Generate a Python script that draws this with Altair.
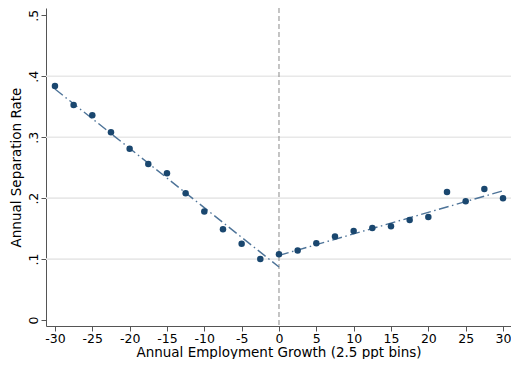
import altair as alt
import pandas as pd

# --- data ---
x_left = [-30, -27.5, -25, -22.5, -20, -17.5, -15, -12.5, -10, -7.5, -5, -2.5]
y_left = [0.384, 0.353, 0.336, 0.308, 0.281, 0.256, 0.241, 0.208, 0.178, 0.149, 0.125, 0.100]
x_right = [0, 2.5, 5, 7.5, 10, 12.5, 15, 17.5, 20, 22.5, 25, 27.5, 30]
y_right = [0.108, 0.114, 0.126, 0.137, 0.146, 0.151, 0.154, 0.164, 0.169, 0.210, 0.195, 0.215, 0.200]

fit_left_x = [-30, 0]
fit_left_y = [0.379, 0.087]
fit_right_x = [0, 30]
fit_right_y = [0.106, 0.212]

grid_y = [0.1, 0.2, 0.3, 0.4]
x_ticks = [-30, -25, -20, -15, -10, -5, 0, 5, 10, 15, 20, 25, 30]
y_ticks = [0, 0.1, 0.2, 0.3, 0.4, 0.5]
vline_x = [0]

FONT = "DejaVu Sans"
NAVY = "#1a476f"
LINE = "#4d7398"

pts = pd.DataFrame({"x": x_left + x_right, "y": y_left + y_right})
fits = pd.DataFrame({
    "x": fit_left_x + fit_right_x,
    "y": fit_left_y + fit_right_y,
    "seg": ["left"] * len(fit_left_x) + ["right"] * len(fit_right_x),
})
grid = pd.DataFrame({"y": grid_y})
vline = pd.DataFrame({"x": vline_x})

xscale = alt.Scale(domain=[-31.2, 31.07], nice=False, zero=False)
yscale = alt.Scale(domain=[-0.0098, 0.512], nice=False, zero=False)

xaxis = alt.Axis(
    values=x_ticks, title="Annual Employment Growth (2.5 ppt bins)", grid=False,
    labelExpr="datum.value < 0 ? '-' + abs(datum.value) : '' + datum.value",
    labelFont=FONT, labelFontSize=12.5, titleFont=FONT, titleFontSize=13.5,
    titleFontWeight="normal", labelColor="#000", titleColor="#000",
    domainColor="#555", tickColor="#555", tickSize=5, labelPadding=1, titlePadding=1,
    labelFlush=False, labelOverlap=False,
)
yaxis = alt.Axis(
    values=y_ticks, title="Annual Separation Rate", grid=False,
    labelExpr="datum.value == 0 ? '0' : '.' + round(datum.value*10)",
    labelAngle=270, labelAlign="center", labelBaseline="bottom",
    labelFont=FONT, labelFontSize=12.5, titleFont=FONT, titleFontSize=13.5,
    titleFontWeight="normal", labelColor="#000", titleColor="#000",
    domainColor="#555", tickColor="#555", tickSize=5, labelPadding=1, titlePadding=4,
    labelFlush=False, labelOverlap=False,
)

grid_layer = alt.Chart(grid).mark_rule(color="#e8e8e8", strokeWidth=1.6).encode(
    y=alt.Y("y:Q", scale=yscale, axis=yaxis)
)
vline_layer = alt.Chart(vline).mark_rule(color="#8a8a8a", strokeWidth=1, strokeDash=[5, 3]).encode(
    x=alt.X("x:Q", scale=xscale, axis=xaxis)
)
fit_layer = alt.Chart(fits).mark_line(color=LINE, strokeWidth=1.4, strokeDash=[10, 3.5, 1.5, 3.5]).encode(
    x=alt.X("x:Q", scale=xscale, axis=xaxis),
    y=alt.Y("y:Q", scale=yscale, axis=yaxis),
    detail="seg:N",
)
pt_layer = alt.Chart(pts).mark_circle(color=NAVY, opacity=1, size=42).encode(
    x=alt.X("x:Q", scale=xscale, axis=xaxis),
    y=alt.Y("y:Q", scale=yscale, axis=yaxis),
)

chart = alt.layer(grid_layer, vline_layer, fit_layer, pt_layer).properties(
    width=465, height=318,
    autosize=alt.AutoSizeParams(type="none"),
    padding={"left": 38, "top": 0, "right": 0, "bottom": 33},
    background="white",
).configure_view(stroke=None)

chart.save("out.html", embed_options={"renderer": "svg", "actions": False})
